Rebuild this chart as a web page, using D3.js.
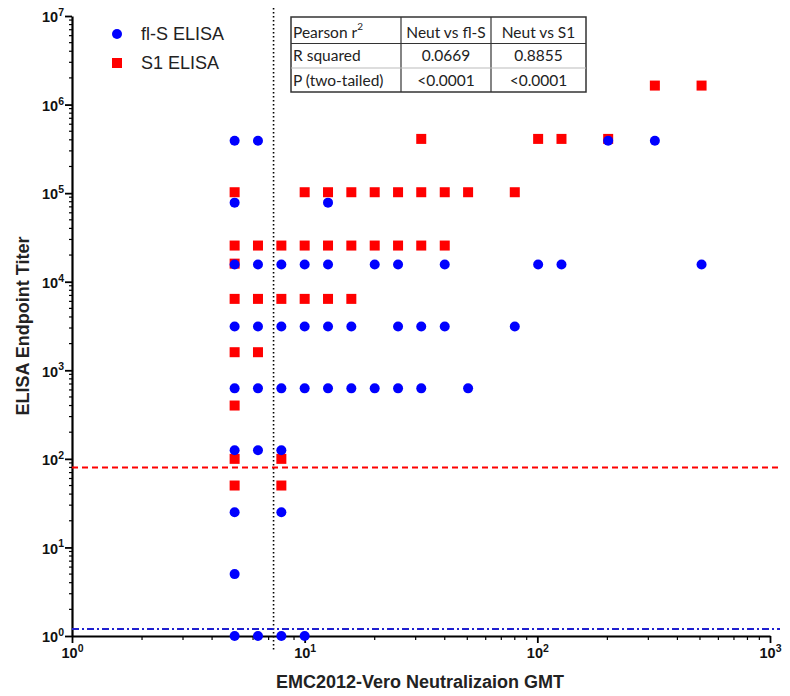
<!DOCTYPE html>
<html><head><meta charset="utf-8">
<script src="https://cdn.jsdelivr.net/npm/d3@7"></script>
<style>body{margin:0;background:#fff}svg{display:block}</style>
</head><body>
<svg id="c" width="790" height="696"></svg>
<script>
// ---- data ----
const xTicks = [1, 10, 100, 1000];
const yTicks = [1, 10, 100, 1e3, 1e4, 1e5, 1e6, 1e7];
// fl-S ELISA (blue circles)
const flsX = [5,5,5,5,5,5,5,5,5, 6.3,6.3,6.3,6.3,6.3,6.3, 7.94,7.94,7.94,7.94,7.94,7.94, 10,10,10,10, 12.6,12.6,12.6,12.6, 15.87,15.87, 20,20, 25.2,25.2,25.2, 31.7,31.7, 40,40, 50.4, 80, 100.8, 127, 201.6, 320, 508];
const flsY = [390625,78125,15625,3125,625,125,25,5,1, 390625,15625,3125,625,125,1, 15625,3125,625,125,25,1, 15625,3125,625,1, 78125,15625,3125,625, 3125,625, 15625,625, 15625,3125,625, 3125,625, 15625,3125, 625, 3125, 15625, 15625, 390625, 390625, 15625];
// S1 ELISA (red squares)
const s1X = [5,5,5,5,5,5,5,5, 6.3,6.3,6.3, 7.94,7.94,7.94,7.94, 10,10,10, 12.6,12.6,12.6, 15.87,15.87,15.87, 20,20, 25.2,25.2, 31.7,31.7,31.7, 40,40, 50.4, 80, 100.8, 127, 201.6, 320, 508];
const s1Y = [102400,25600,16000,6400,1600,400,100,50, 25600,6400,1600, 25600,6400,100,50, 102400,25600,6400, 102400,25600,6400, 102400,25600,6400, 102400,25600, 102400,25600, 409600,102400,25600, 102400,25600, 102400, 102400, 409600, 409600, 409600, 1638400, 1638400];
const s1Cutoff = 80;      // red dashed line
const flsCutoff = 1.2;    // blue dash-dot line
const neutCutoff = 7.35;  // vertical dotted line
const seriesNames = ["fl-S ELISA", "S1 ELISA"];
const tableHead = ["Pearson r", "Neut vs fl-S", "Neut vs S1"];
const tableRow1 = ["R squared", "0.0669", "0.8855"];
const tableRow2 = ["P (two-tailed)", "<0.0001", "<0.0001"];

// ---- layout ----
const svg = d3.select("#c");
const x = d3.scaleLog().domain([1, 1000]).range([72, 770]);
const y = d3.scaleLog().domain([1, 1e7]).range([636, 16]);
const font = "'Liberation Sans', Arial, sans-serif";

// minor ticks
const yMinor = y.ticks(40).filter(v => !yTicks.includes(v));
const xMinor = x.ticks(40).filter(v => !xTicks.includes(v));

const gy = svg.append("g").attr("transform", `translate(${x.range()[0]},0)`);
gy.selectAll("line.minor").data(yMinor).join("line")
  .attr("x1", -3).attr("x2", 0).attr("y1", d => y(d)).attr("y2", d => y(d))
  .attr("stroke", "#000").attr("stroke-width", 1.2);
gy.call(d3.axisLeft(y).tickValues(yTicks).tickSize(7).tickSizeOuter(0).tickFormat(() => ""));
gy.select(".domain").attr("stroke-width", 2.2);
gy.selectAll(".tick line").attr("stroke-width", 1.8);
gy.selectAll(".tick text").each(function(d) {
  const t = d3.select(this).attr("x", -8).attr("dy", "0.4em")
    .attr("font-family", font).attr("font-weight", "bold").attr("font-size", 14.5).attr("fill", "#111");
  t.append("tspan").text("10");
  t.append("tspan").attr("font-size", 10.5).attr("dy", "-0.6em").text(Math.round(Math.log10(d)));
});

const gx = svg.append("g").attr("transform", `translate(0,${y.range()[0]})`);
gx.selectAll("line.minor").data(xMinor).join("line")
  .attr("y1", 0).attr("y2", 4).attr("x1", d => x(d)).attr("x2", d => x(d))
  .attr("stroke", "#000").attr("stroke-width", 1.2);
gx.call(d3.axisBottom(x).tickValues(xTicks).tickSize(7).tickSizeOuter(0).tickFormat(() => ""));
gx.select(".domain").attr("stroke-width", 2.2);
gx.selectAll(".tick line").attr("stroke-width", 1.8);
gx.selectAll(".tick text").each(function(d) {
  const t = d3.select(this).attr("y", 12).attr("dy", "0.71em")
    .attr("font-family", font).attr("font-weight", "bold").attr("font-size", 14.5).attr("fill", "#111");
  t.append("tspan").text("10");
  t.append("tspan").attr("font-size", 10.5).attr("dy", "-0.6em").text(Math.round(Math.log10(d)));
});

// axis titles
svg.append("text").attr("x", 420).attr("y", 688).attr("text-anchor", "middle")
  .attr("font-family", font).attr("font-weight", "bold").attr("font-size", 18).attr("fill", "#222")
  .text("EMC2012-Vero Neutralizaion GMT");
svg.append("text").attr("transform", "translate(29,326) rotate(-90)").attr("text-anchor", "middle")
  .attr("font-family", font).attr("font-weight", "bold").attr("font-size", 18).attr("fill", "#222")
  .text("ELISA Endpoint Titer");

// reference lines
svg.append("line").attr("x1", x(neutCutoff)).attr("x2", x(neutCutoff)).attr("y1", 8).attr("y2", 652)
  .attr("stroke", "#000").attr("stroke-width", 1.6).attr("stroke-dasharray", "1.5,2.5");
svg.append("line").attr("x1", x.range()[0]).attr("x2", 780).attr("y1", y(s1Cutoff)).attr("y2", y(s1Cutoff))
  .attr("stroke", "#ff0000").attr("stroke-width", 2).attr("stroke-dasharray", "6,4");
svg.append("line").attr("x1", x.range()[0]).attr("x2", 780).attr("y1", y(flsCutoff)).attr("y2", y(flsCutoff))
  .attr("stroke", "#2020d0").attr("stroke-width", 2).attr("stroke-dasharray", "7,3,2,3");

// points
const s1 = s1X.map((v, i) => ({x: v, y: s1Y[i]}));
const fls = flsX.map((v, i) => ({x: v, y: flsY[i]}));
svg.append("g").selectAll("rect").data(s1).join("rect")
  .attr("x", d => x(d.x) - 5).attr("y", d => y(d.y) - 5).attr("width", 10).attr("height", 10)
  .attr("fill", "#ff0000");
svg.append("g").selectAll("circle").data(fls).join("circle")
  .attr("cx", d => x(d.x)).attr("cy", d => y(d.y)).attr("r", 5)
  .attr("fill", "#0000ff");

// legend
const lg = svg.append("g");
lg.append("circle").attr("cx", 117).attr("cy", 34).attr("r", 5).attr("fill", "#0000ff");
lg.append("rect").attr("x", 112).attr("y", 58).attr("width", 10).attr("height", 10).attr("fill", "#ff0000");
lg.selectAll("text").data(seriesNames).join("text")
  .attr("x", 141).attr("y", (d, i) => 34 + i * 29).attr("dy", "0.36em")
  .attr("font-family", font).attr("font-size", 18).attr("fill", "#222").text(d => d);

// table
const tx = [291, 401, 491, 586];
const ty = [17, 43.5, 68, 92];
const tb = svg.append("g").attr("font-family", "Lato, 'Open Sans', sans-serif").attr("font-size", 15.5).attr("fill", "#222");
tb.append("rect").attr("x", tx[0]).attr("y", ty[0]).attr("width", tx[3] - tx[0]).attr("height", ty[3] - ty[0])
  .attr("fill", "#fff").attr("stroke", "#333").attr("stroke-width", 1.5);
[tx[1], tx[2]].forEach(v => tb.append("line").attr("x1", v).attr("x2", v).attr("y1", ty[0]).attr("y2", ty[3]).attr("stroke", "#333").attr("stroke-width", 1.2));
tb.append("line").attr("x1", tx[0]).attr("x2", tx[3]).attr("y1", ty[1]).attr("y2", ty[1]).attr("stroke", "#333").attr("stroke-width", 1.2);
tb.append("line").attr("x1", tx[0]).attr("x2", tx[3]).attr("y1", ty[2]).attr("y2", ty[2]).attr("stroke", "#bbb").attr("stroke-width", 1);
[tableHead, tableRow1, tableRow2].forEach((row, r) => {
  const cy = (ty[r] + ty[r + 1]) / 2 + (r === 0 ? 2 : 0);
  row.forEach((txt, c) => {
    const t = tb.append("text").attr("y", cy).attr("dy", "0.36em");
    if (c === 0) t.attr("x", tx[0] + 2);
    else t.attr("x", (tx[c] + tx[c + 1]) / 2).attr("text-anchor", "middle");
    t.text(txt);
    if (r === 0 && c === 0) t.append("tspan").attr("font-size", 10).attr("dy", "-0.8em").text("2");
  });
});
</script>
</body></html>
